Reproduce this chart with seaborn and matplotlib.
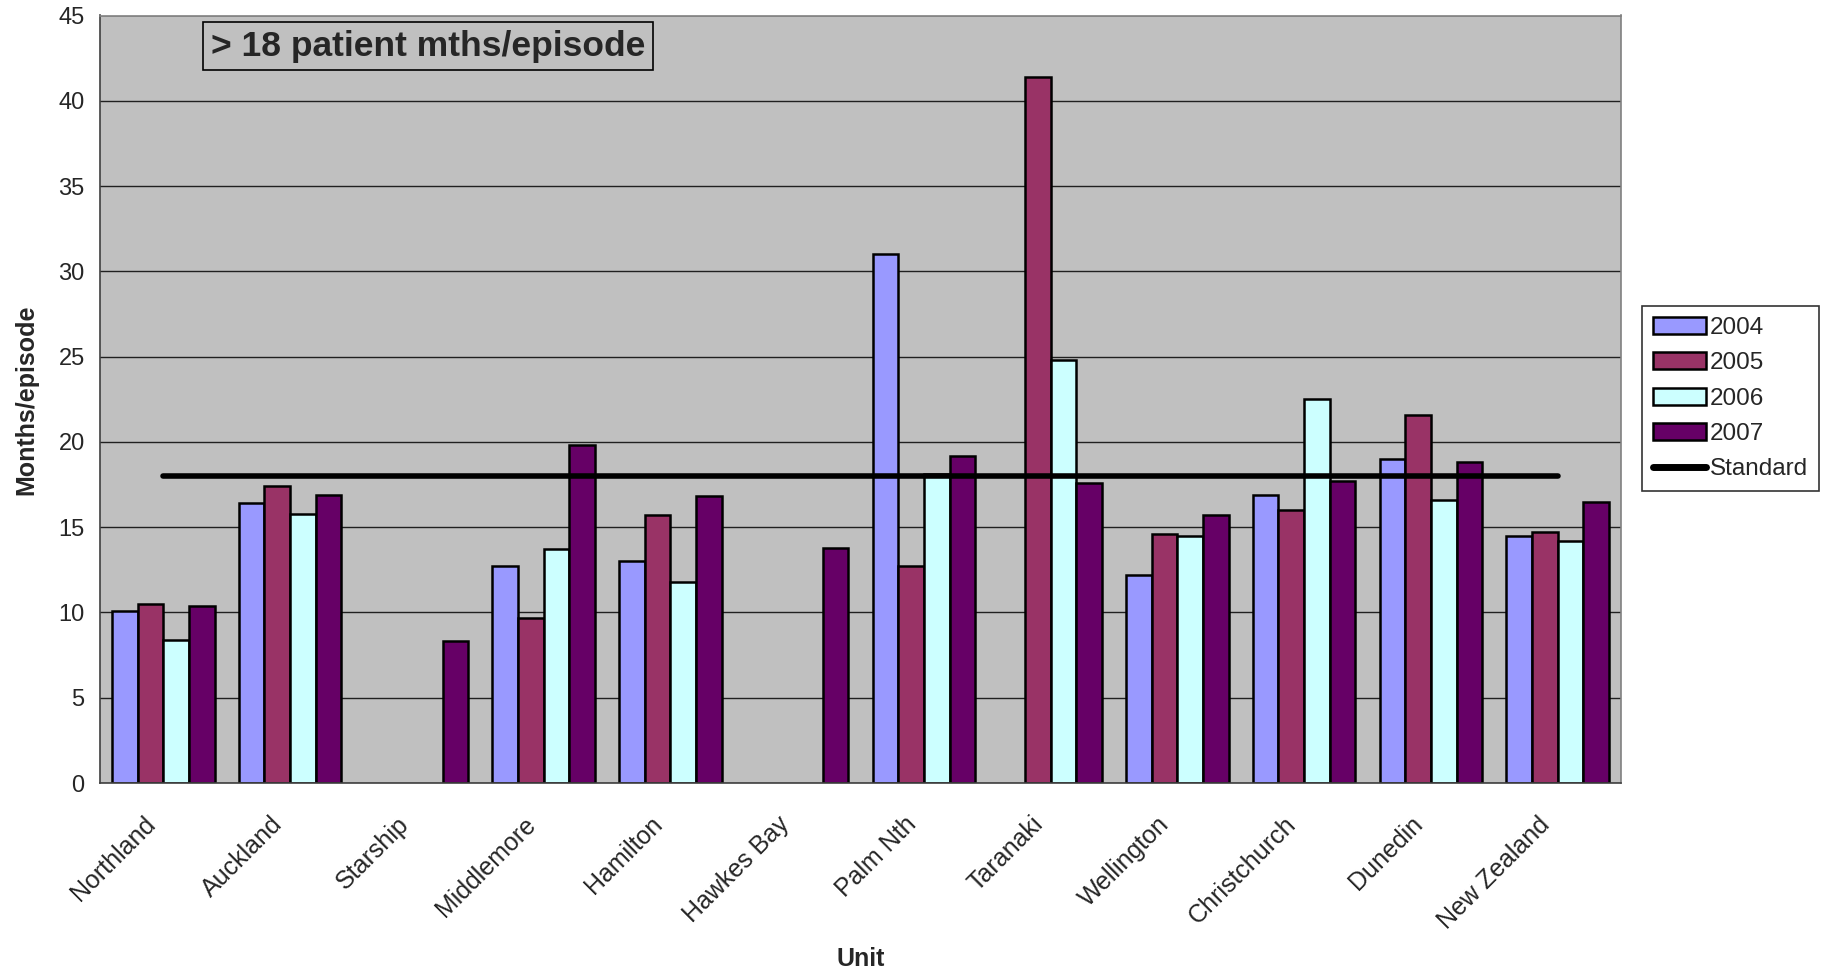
import numpy as np
import pandas as pd
import matplotlib
matplotlib.use("Agg")
import matplotlib.pyplot as plt
import matplotlib.transforms as mtransforms
import seaborn as sns
from matplotlib.patches import Patch
from matplotlib.lines import Line2D

# Data
units = ["Northland", "Auckland", "Starship", "Middlemore", "Hamilton", "Hawkes Bay",
         "Palm Nth", "Taranaki", "Wellington", "Christchurch", "Dunedin", "New Zealand"]
years = ["2004", "2005", "2006", "2007"]
v2004 = [10.1, 16.4, np.nan, 12.7, 13.0, np.nan, 31.0, np.nan, 12.2, 16.9, 19.0, 14.5]
v2005 = [10.5, 17.4, np.nan, 9.7, 15.7, np.nan, 12.7, 41.4, 14.6, 16.0, 21.6, 14.7]
v2006 = [8.4, 15.8, np.nan, 13.7, 11.8, np.nan, 18.1, 24.8, 14.5, 22.5, 16.6, 14.2]
v2007 = [10.4, 16.9, 8.3, 19.8, 16.8, 13.8, 19.2, 17.6, 15.7, 17.7, 18.8, 16.5]
standard = [18, 18, 18, 18, 18, 18, 18, 18, 18, 18, 18, 18]

colors = {"2004": "#9999FF", "2005": "#993366", "2006": "#CCFFFF", "2007": "#660066"}

FONT = ["Liberation Sans", "DejaVu Sans"]
NARROW = ["Liberation Sans Narrow", "Liberation Sans", "DejaVu Sans"]


def main():
    sns.set_theme(style="white")
    plt.rcParams["font.family"] = FONT

    df = pd.DataFrame({"unit": units * 4,
                       "year": sum([[y] * len(units) for y in years], []),
                       "value": v2004 + v2005 + v2006 + v2007})

    fig = plt.figure(figsize=(18.29, 9.74), dpi=100)
    ax = fig.add_axes([100 / 1829, 1 - 783 / 974, 1521 / 1829, (783 - 15.5) / 974])
    ax.set_facecolor("#C0C0C0")

    sns.barplot(data=df, x="unit", y="value", hue="year", order=units, hue_order=years,
                palette=colors, saturation=1, edgecolor="black", linewidth=1.8,
                width=0.81, gap=0, errorbar=None, legend=False, ax=ax, zorder=2)

    ax.plot(units, standard, color="black", linewidth=4, solid_capstyle="round", zorder=3)

    ax.set_ylim(0, 45)
    ax.set_xlim(-0.5, len(units) - 0.5)
    ax.set_yticks(range(0, 46, 5))
    ax.yaxis.grid(True, color="#202020", linewidth=1)
    ax.set_axisbelow(True)

    # category boundaries get the tick marks, labels sit at the centres
    ax.set_xticks(np.arange(-0.5, len(units), 1.0))
    ax.set_xticklabels([])
    ax.set_xticks(range(len(units)), minor=True)
    ax.set_xticklabels(units, minor=True, rotation=45, ha="right", va="top",
                       rotation_mode="anchor", fontsize=18)
    ax.tick_params(axis="x", which="major", direction="out", length=7, color="#404040", width=1)
    ax.tick_params(axis="x", which="minor", length=0, pad=21)
    ax.tick_params(axis="y", direction="out", length=7, color="#404040", width=1, labelsize=17, pad=4)
    # nudge rotated labels left (after tick_params, which resets transforms)
    shift = mtransforms.ScaledTranslation(-20 / 100, 0, fig.dpi_scale_trans)
    for lab in ax.get_xticklabels(minor=True):
        lab.set_transform(lab.get_transform() + shift)

    for side in ["top", "right"]:
        ax.spines[side].set_color("#808080")
        ax.spines[side].set_linewidth(1.2)
    for side in ["left", "bottom"]:
        ax.spines[side].set_color("#404040")
        ax.spines[side].set_linewidth(1.2)

    ax.set_xlabel("")
    ax.set_ylabel("")
    fig.text(26 / 1829, 1 - 400 / 974, "Months/episode", rotation=90, ha="center", va="center",
             fontsize=18, fontweight="bold", family=NARROW)
    fig.text(861 / 1829, 1 - 959 / 974, "Unit", ha="center", va="center",
             fontsize=18, fontweight="bold", family=NARROW)

    ax.text(0.073, 0.960, "> 18 patient mths/episode", transform=ax.transAxes,
            ha="left", va="center", fontsize=25.5, fontweight="bold",
            bbox=dict(boxstyle="square,pad=0.22", facecolor="#C0C0C0", edgecolor="black", linewidth=1.2))

    handles = [Patch(facecolor=colors[y], edgecolor="black", linewidth=1.8, label=y) for y in years]
    handles.append(Line2D([0], [0], color="black", linewidth=5, solid_capstyle="round", label="Standard"))
    leg = fig.legend(handles=handles, loc="upper left",
                     bbox_to_anchor=(1642 / 1829, 1 - 306 / 974), fontsize=17.5,
                     frameon=True, fancybox=False, edgecolor="black", facecolor="white",
                     handlelength=2.2, handleheight=0.7, handletextpad=0.15,
                     labelspacing=0.55, borderpad=0.45, borderaxespad=0)
    leg.get_frame().set_linewidth(1.2)

    fig.savefig("out.png", dpi=100, facecolor="white")


if __name__ == "__main__":
    main()
